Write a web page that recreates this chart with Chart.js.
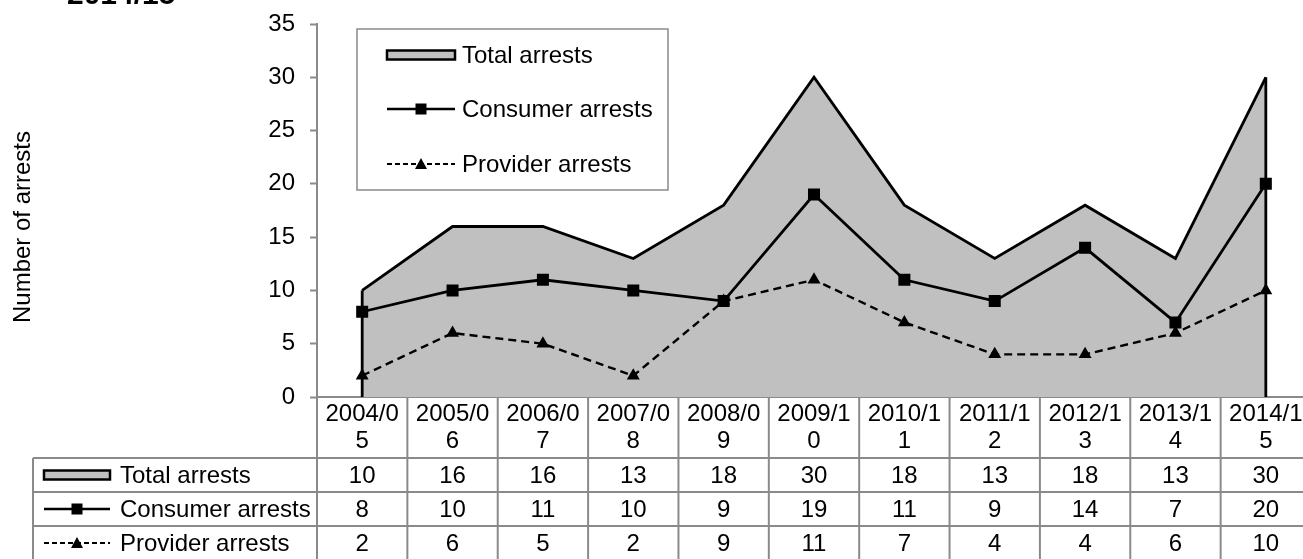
<!DOCTYPE html>
<html>
<head>
<meta charset="utf-8">
<script src="https://cdn.jsdelivr.net/npm/chart.js@4/dist/chart.umd.min.js"></script>
<style>
  html, body { margin: 0; padding: 0; background: #ffffff; overflow: hidden; }
  #wrap { width: 1303px; height: 559px; position: relative; overflow: hidden; }
</style>
</head>
<body>
<div id="wrap"><canvas id="c" width="1320" height="559"></canvas></div>
<script>
const categories = ["2004/05", "2005/06", "2006/07", "2007/08", "2008/09", "2009/10", "2010/11", "2011/12", "2012/13", "2013/14", "2014/15"];
const totalArrests = [10, 16, 16, 13, 18, 30, 18, 13, 18, 13, 30];
const consumerArrests = [8, 10, 11, 10, 9, 19, 11, 9, 14, 7, 20];
const providerArrests = [2, 6, 5, 2, 9, 11, 7, 4, 4, 6, 10];
const seriesNames = ["Total arrests", "Consumer arrests", "Provider arrests"];
const yTicks = [0, 5, 10, 15, 20, 25, 30, 35];
const titleText = "2014/15";
const yTitle = "Number of arrests";

const FONT = '"Liberation Sans", Arial, sans-serif';
const FS = 24;
const GRID = '#8a8a8a';

function drawSymbol(ctx, kind, x0, x1, y) {
  ctx.save();
  if (kind === 0) {
    ctx.fillStyle = '#c0c0c0';
    ctx.strokeStyle = '#000';
    ctx.lineWidth = 2.5;
    ctx.fillRect(x0, y - 4.5, x1 - x0, 9);
    ctx.strokeRect(x0, y - 4.5, x1 - x0, 9);
  } else if (kind === 1) {
    ctx.strokeStyle = '#000';
    ctx.lineWidth = 2.5;
    ctx.beginPath(); ctx.moveTo(x0, y); ctx.lineTo(x1, y); ctx.stroke();
    const cx = (x0 + x1) / 2;
    ctx.fillStyle = '#000';
    ctx.fillRect(cx - 5.5, y - 5.5, 11, 11);
  } else {
    ctx.strokeStyle = '#000';
    ctx.lineWidth = 2.2;
    ctx.setLineDash([5, 3]);
    ctx.beginPath(); ctx.moveTo(x0, y); ctx.lineTo(x1, y); ctx.stroke();
    ctx.setLineDash([]);
    const cx = (x0 + x1) / 2;
    ctx.fillStyle = '#000';
    ctx.beginPath();
    ctx.moveTo(cx, y - 6); ctx.lineTo(cx + 6, y + 5); ctx.lineTo(cx - 6, y + 5); ctx.closePath();
    ctx.fill();
  }
  ctx.restore();
}

const decorPlugin = {
  id: 'decor',
  afterDatasetDraw(chart, args) {
    if (args.index !== 0) return;
    const meta = chart.getDatasetMeta(0);
    const yScale = chart.scales.y;
    const y0 = yScale.getPixelForValue(0);
    const ctx = chart.ctx;
    ctx.save();
    ctx.strokeStyle = '#000';
    ctx.lineWidth = 2.8;
    const pts = [meta.data[0], meta.data[meta.data.length - 1]];
    pts.forEach(p => {
      ctx.beginPath(); ctx.moveTo(p.x, p.y); ctx.lineTo(p.x, y0); ctx.stroke();
    });
    ctx.restore();
  },
  afterDraw(chart) {
    const ctx = chart.ctx;
    const area = chart.chartArea;
    const xs = chart.scales.x;
    const n = categories.length;
    const colW = area.width / n;
    const top = area.bottom + 1;
    const headerBottom = top + 60;
    const rowH = 34;
    const leftX = 33;
    const rightX = area.right;
    ctx.save();

    // Title (partially visible)
    ctx.fillStyle = '#000';
    ctx.font = 'bold 30px ' + FONT;
    ctx.textAlign = 'left';
    ctx.textBaseline = 'alphabetic';
    ctx.fillText(titleText, 67, 4);

    // Y axis title
    ctx.save();
    ctx.translate(23, 227);
    ctx.rotate(-Math.PI / 2);
    ctx.font = FS + 'px ' + FONT;
    ctx.textAlign = 'center';
    ctx.textBaseline = 'middle';
    ctx.fillText(yTitle, 0, 0);
    ctx.restore();

    // Legend box
    const lx = 357, ly = 29, lw = 311, lh = 161;
    ctx.fillStyle = '#fff';
    ctx.fillRect(lx, ly, lw, lh);
    ctx.strokeStyle = GRID;
    ctx.lineWidth = 1.5;
    ctx.strokeRect(lx, ly, lw, lh);
    const legY = [55, 109, 164];
    ctx.font = FS + 'px ' + FONT;
    ctx.textBaseline = 'middle';
    ctx.textAlign = 'left';
    seriesNames.forEach((nm, i) => {
      drawSymbol(ctx, i, 387, 455, legY[i]);
      ctx.fillStyle = '#000';
      ctx.fillText(nm, 462, legY[i] + 1);
    });

    // Data table
    ctx.strokeStyle = GRID;
    ctx.lineWidth = 2;
    for (let k = 0; k <= n; k++) {
      const x = area.left + k * colW;
      ctx.beginPath(); ctx.moveTo(x, top); ctx.lineTo(x, 559); ctx.stroke();
    }
    ctx.beginPath(); ctx.moveTo(leftX, headerBottom); ctx.lineTo(leftX, 559); ctx.stroke();
    for (let r = 0; r <= 3; r++) {
      const y = headerBottom + r * rowH;
      ctx.beginPath(); ctx.moveTo(leftX, y); ctx.lineTo(rightX, y); ctx.stroke();
    }

    ctx.fillStyle = '#000';
    ctx.font = FS + 'px ' + FONT;
    ctx.textAlign = 'center';
    ctx.textBaseline = 'middle';
    categories.forEach((c, i) => {
      const x = xs.getPixelForValue(i);
      ctx.fillText(c.slice(0, -1), x, top + 16);
      ctx.fillText(c.slice(-1), x, top + 43);
    });
    const rows = [totalArrests, consumerArrests, providerArrests];
    rows.forEach((vals, r) => {
      const yc = headerBottom + r * rowH + rowH / 2 + 1;
      vals.forEach((v, i) => {
        ctx.fillText(String(v), xs.getPixelForValue(i), yc);
      });
      drawSymbol(ctx, r, 44, 110, yc - 1);
      ctx.textAlign = 'left';
      ctx.fillText(seriesNames[r], 120, yc);
      ctx.textAlign = 'center';
    });
    ctx.restore();
  }
};

new Chart(document.getElementById('c'), {
  type: 'line',
  data: {
    labels: categories,
    datasets: [
      {
        label: seriesNames[0],
        data: totalArrests,
        fill: 'origin',
        backgroundColor: '#c0c0c0',
        borderColor: '#000',
        borderWidth: 2.8,
        pointRadius: 0,
        tension: 0,
        order: 3
      },
      {
        label: seriesNames[1],
        data: consumerArrests,
        fill: false,
        borderColor: '#000',
        borderWidth: 2.8,
        pointStyle: 'rect',
        pointRadius: 8.5,
        pointBackgroundColor: '#000',
        pointBorderColor: '#000',
        pointBorderWidth: 0,
        tension: 0,
        order: 1
      },
      {
        label: seriesNames[2],
        data: providerArrests,
        fill: false,
        borderColor: '#000',
        borderWidth: 2.4,
        borderDash: [8, 5],
        pointStyle: 'triangle',
        pointRadius: 7.5,
        pointBackgroundColor: '#000',
        pointBorderColor: '#000',
        pointBorderWidth: 0,
        tension: 0,
        order: 2
      }
    ]
  },
  options: {
    responsive: false,
    animation: false,
    devicePixelRatio: 1,
    layout: { padding: { top: 24, right: 9, bottom: 162, left: 0 } },
    plugins: { legend: { display: false }, tooltip: { enabled: false }, title: { display: false } },
    scales: {
      x: {
        type: 'category',
        offset: true,
        grid: { display: false },
        ticks: { display: false },
        border: { display: true, color: GRID, width: 2 },
        afterFit(scale) {
          scale.height = 0;
          scale.paddingLeft = 0; scale.paddingRight = 0;
          scale.paddingTop = 0; scale.paddingBottom = 0;
        }
      },
      y: {
        min: 0,
        max: 35,
        afterBuildTicks(scale) { scale.ticks = yTicks.map(v => ({ value: v })); },
        ticks: {
          color: '#000',
          font: { size: FS, family: FONT },
          padding: 15
        },
        grid: { display: true, drawOnChartArea: false, drawTicks: true, tickLength: 7, tickColor: GRID, tickWidth: 2 },
        border: { display: true, color: GRID, width: 2 },
        afterFit(scale) {
          scale.width = 317;
          scale.paddingTop = 0; scale.paddingBottom = 0;
        }
      }
    }
  },
  plugins: [decorPlugin]
});
</script>
</body>
</html>
